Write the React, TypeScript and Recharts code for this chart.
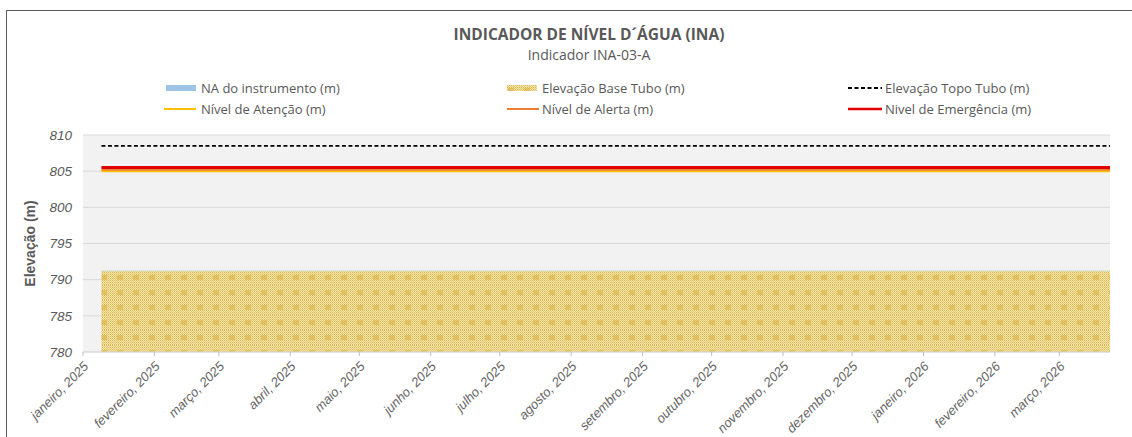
import React from "react";
import { ComposedChart, Area, Line, XAxis, YAxis, CartesianGrid, Label } from "recharts";

// leituras (datas) e cotas constantes do instrumento
const dates = ["2025-01-09", "2026-03-23"];
const naInstrumento: (number | null)[] = [null, null];
const baseTubo = [791.2, 791.2];
const topoTubo = [808.5, 808.5];
const nivelAtencao = [805.0, 805.0];
const nivelAlerta = [805.2, 805.2];
const nivelEmergencia = [805.5, 805.5];

const monthTicks = [
  "2025-01-01", "2025-02-01", "2025-03-01", "2025-04-01", "2025-05-01",
  "2025-06-01", "2025-07-01", "2025-08-01", "2025-09-01", "2025-10-01",
  "2025-11-01", "2025-12-01", "2026-01-01", "2026-02-01", "2026-03-01",
];
const monthLabels = [
  "janeiro, 2025", "fevereiro, 2025", "março, 2025", "abril, 2025", "maio, 2025",
  "junho, 2025", "julho, 2025", "agosto, 2025", "setembro, 2025", "outubro, 2025",
  "novembro, 2025", "dezembro, 2025", "janeiro, 2026", "fevereiro, 2026", "março, 2026",
];
const yTicks = [780, 785, 790, 795, 800, 805, 810];

const toMs = (d: string) => new Date(d + "T00:00:00Z").getTime();

const data = dates.map((d, i) => ({
  t: toMs(d),
  na: naInstrumento[i],
  base: baseTubo[i],
  topo: topoTubo[i],
  atencao: nivelAtencao[i],
  alerta: nivelAlerta[i],
  emergencia: nivelEmergencia[i],
}));

const tickMs = monthTicks.map(toMs);
const gray = "#595959";
const axisFont = "'Liberation Sans', Arial, sans-serif";
const legendFont = "'Open Sans', 'Noto Sans', sans-serif";

const HatchDefs = ({ id }: { id: string }) => (
  <defs>
    <pattern id={id + "-fine"} width="2" height="2" patternUnits="userSpaceOnUse">
      <rect width="2" height="2" fill="#f6e8b6" />
      <rect width="1" height="1" fill="#d9b446" />
      <rect x="1" y="1" width="1" height="1" fill="#e6c96a" />
    </pattern>
    <pattern id={id} width="16" height="15" patternUnits="userSpaceOnUse">
      <rect width="16" height="15" fill={`url(#${id}-fine)`} />
      <rect x="5" y="5" width="6" height="5" fill="#dfbd55" opacity="0.8" />
    </pattern>
  </defs>
);

const MonthTick = (props: any) => {
  const { x, y, index } = props;
  return (
    <g transform={`translate(${x + 3},${y + 6}) rotate(-45)`}>
      <text textAnchor="end" dy="0.35em" fill="#666" fontSize={13} fontStyle="italic" fontFamily={axisFont}>
        {monthLabels[index]}
      </text>
    </g>
  );
};

const LegendItem = ({ left, top, swatch, text }: { left: number; top: number; swatch: React.ReactNode; text: string }) => (
  <div style={{ position: "absolute", left, top, display: "flex", alignItems: "center", height: 18 }}>
    <svg width={36} height={10} style={{ marginRight: 3 }}>{swatch}</svg>
    <span style={{ fontFamily: legendFont, fontSize: 13, color: gray, whiteSpace: "nowrap" }}>{text}</span>
  </div>
);

export default function App() {
  return (
    <div style={{ position: "absolute", left: 0, top: 0, width: 1132, height: 437, background: "#fff", overflow: "hidden", fontFamily: legendFont }}>
      <div style={{ position: "absolute", left: 6, top: 10, width: 1200, height: 500, border: "1.5px solid #5a5a5a" }} />
      <div style={{ position: "absolute", left: 0, width: 1178, top: 23, textAlign: "center", fontWeight: 700, fontSize: 15.5, color: gray, fontFamily: legendFont }}>
        INDICADOR DE NÍVEL D´ÁGUA (INA)
      </div>
      <div style={{ position: "absolute", left: 0, width: 1178, top: 45, textAlign: "center", fontSize: 14, color: gray, fontFamily: legendFont }}>
        Indicador INA-03-A
      </div>

      <LegendItem left={162} top={79} text="NA do instrumento (m)" swatch={<rect x={4} y={2} width={30} height={6} fill="#9dc3e6" />} />
      <LegendItem left={162} top={100} text="Nível de Atenção (m)" swatch={<line x1={2} x2={34} y1={5} y2={5} stroke="#ffc000" strokeWidth={2} />} />
      <LegendItem left={503} top={79} text="Elevação Base Tubo (m)" swatch={<><HatchDefs id="legHatch" /><rect x={4} y={2} width={30} height={6} fill="url(#legHatch)" /></>} />
      <LegendItem left={503} top={100} text="Nível de Alerta (m)" swatch={<line x1={4} x2={36} y1={5} y2={5} stroke="#ed7d31" strokeWidth={2} />} />
      <LegendItem left={846} top={79} text="Elevação Topo Tubo (m)" swatch={<line x1={2} x2={36} y1={5} y2={5} stroke="#000" strokeWidth={2} strokeDasharray="4 2.5" />} />
      <LegendItem left={846} top={100} text="Nivel de Emergência (m)" swatch={<line x1={2} x2={36} y1={5} y2={5} stroke="#e00000" strokeWidth={2.5} />} />

      <div style={{ position: "absolute", left: 0, top: 0 }}>
        <ComposedChart width={1132} height={437} data={data} margin={{ top: 135, right: 22, bottom: 0, left: 0 }}>
          <HatchDefs id="hatch" />
          <CartesianGrid vertical={false} stroke="#d9d9d9" fill="#f2f2f2" />
          <XAxis
            dataKey="t"
            type="number"
            domain={[tickMs[0], toMs(dates[dates.length - 1])]}
            ticks={tickMs}
            allowDataOverflow
            interval={0}
            tick={<MonthTick />}
            tickLine={{ stroke: "#bfbfbf" }}
            tickSize={4}
            tickMargin={2}
            axisLine={{ stroke: "#d9d9d9" }}
            height={85}
          />
          <YAxis
            domain={[780, 810]}
            ticks={yTicks}
            width={83}
            tickLine={false}
            axisLine={false}
            tickMargin={5}
            tick={{ fill: gray, fontSize: 13.5, fontStyle: "italic", fontFamily: axisFont }}
          >
            <Label value="Elevação (m)" angle={-90} position="insideLeft" offset={30} style={{ textAnchor: "middle", fill: gray, fontSize: 14, fontWeight: 700, fontFamily: axisFont }} />
          </YAxis>
          <Area dataKey="base" type="linear" fill="url(#hatch)" fillOpacity={1} stroke="#cfd8c2" strokeWidth={1} isAnimationActive={false} />
          <Line dataKey="na" type="linear" stroke="#9dc3e6" strokeWidth={6} dot={false} isAnimationActive={false} />
          <Line dataKey="topo" type="linear" stroke="#000" strokeWidth={1.8} strokeDasharray="4 2.5" dot={false} isAnimationActive={false} />
          <Line dataKey="atencao" type="linear" stroke="#ffc000" strokeWidth={2} dot={false} isAnimationActive={false} />
          <Line dataKey="alerta" type="linear" stroke="#ed7d31" strokeWidth={2} dot={false} isAnimationActive={false} />
          <Line dataKey="emergencia" type="linear" stroke="#e00000" strokeWidth={3} dot={false} isAnimationActive={false} />
        </ComposedChart>
      </div>
    </div>
  );
}
